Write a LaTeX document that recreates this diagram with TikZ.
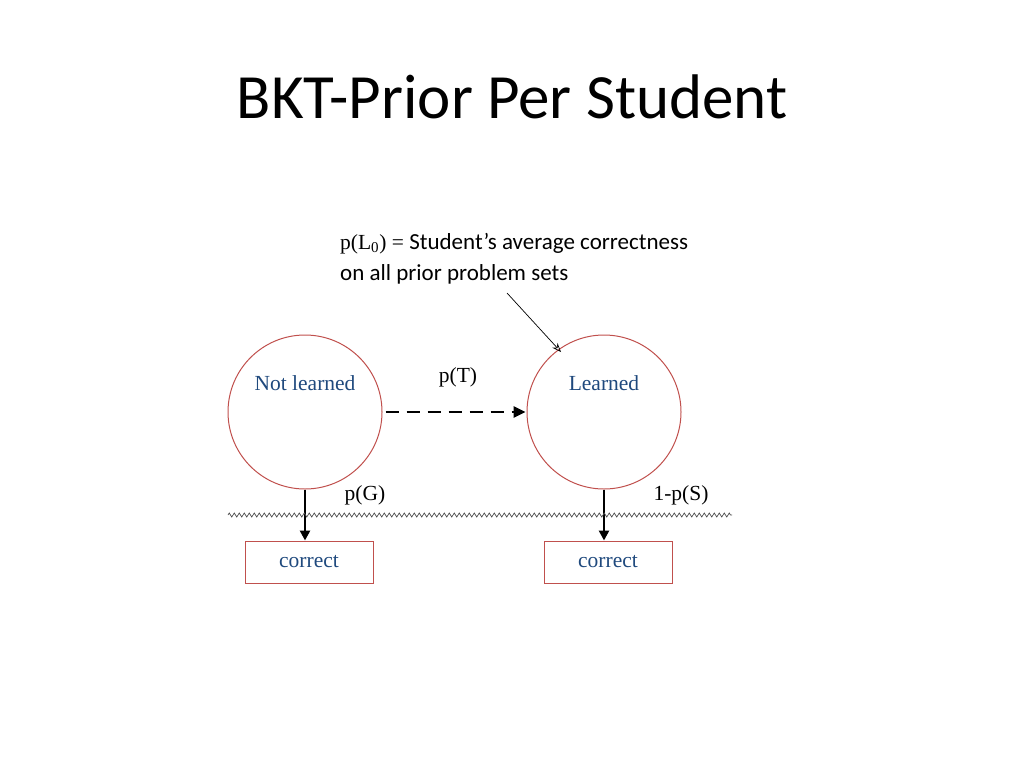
\documentclass[tikz,border=0pt]{standalone}
\usepackage{fontspec}
\setmainfont{Liberation Serif}
\newfontfamily\calfont{Carlito}
\usetikzlibrary{decorations.pathmorphing,arrows.meta,calc}
\definecolor{cred}{HTML}{C0504D}
\definecolor{cblue}{HTML}{1F497D}
\begin{document}
\begin{tikzpicture}[x=1pt,y=-1pt,
  state/.style={circle,draw=cred,line width=1pt,minimum size=154pt,inner sep=0},
  obs/.style={draw=cred,line width=1pt,minimum width=128pt,minimum height=42pt,inner sep=0,text=cblue,font=\fontsize{21.5}{24}\selectfont},
  lbl/.style={font=\fontsize{21.5}{24}\selectfont,inner sep=0},
  emit/.style={line width=2.5pt,-{Triangle[length=10pt,width=10pt]}}]
\useasboundingbox (0,0) rectangle (1024,768);
\node[font=\calfont\fontsize{63}{72}\selectfont] (title) at (512,97) {BKT-Prior Per Student};
\node[state] (nl) at (305,412) {};
\node[state] (l) at (604,412) {};
\node[lbl,text=cblue] (nlt) at (305,383) {Not learned};
\node[lbl,text=cblue] (lt) at (604,383) {Learned};
\node[obs] (c1) at (309,562) {correct};
\node[obs] (c2) at (608,562) {correct};
\draw[line width=2.5pt,dash pattern=on 13pt off 8pt,-{Triangle[length=12pt,width=11pt]}] ($(nl.east)+(3,0)$) coordinate (da) -- ($(l.west)+(-1,0)$) coordinate (db);
\draw[emit] (nl.south) -- (c1.north -| nl.south);
\draw[emit] (l.south) -- (c2.north -| l.south);
\draw[black!70,line width=0.7pt,decorate,decoration={zigzag,amplitude=2pt,segment length=5pt}] (228,515) coordinate (wa) -- (732,515) coordinate (wb);
\node[lbl] (pt) at (458,377) {p(T)};
\node[lbl] (pg) at (365,495) {p(G)};
\node[lbl] (ps) at (681,495) {1-p(S)};
\node[anchor=west,inner sep=0,align=left,font=\fontsize{21.5}{31}\selectfont] (ann) at (340,259) {p(L\textsubscript{0}) = {\calfont\fontsize{23}{31}\selectfont Student’s average correctness}\\{\calfont\fontsize{23}{31}\selectfont on all prior problem sets}};
\coordinate (as) at (507,293);
\draw[-{Stealth[length=9pt,width=7pt,open]},line width=0.7pt] (as) -- (561,352);
\end{tikzpicture}
\end{document}
